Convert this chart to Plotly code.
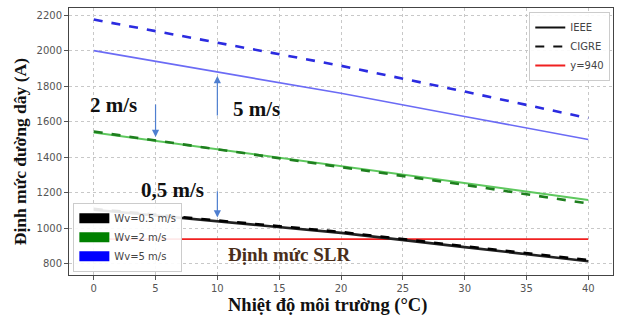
import plotly.graph_objects as go

temp = [0, 10, 20, 30, 40]
ieee_05 = [1105, 1040, 975, 895, 815]
cigre_05 = [1110, 1045, 980, 900, 822]
ieee_2 = [1540, 1445, 1350, 1255, 1160]
cigre_2 = [1545, 1445, 1345, 1245, 1140]
ieee_5 = [2000, 1880, 1760, 1630, 1500]
cigre_5 = [2175, 2045, 1915, 1770, 1620]
slr_x = [0, 40]
slr_y = [940, 940]

x_ticks = [0, 5, 10, 15, 20, 25, 30, 35, 40]
y_ticks = [800, 1000, 1200, 1400, 1600, 1800, 2000, 2200]

fig = go.Figure()

def line(x, y, color, dash, width):
    fig.add_trace(go.Scatter(x=x, y=y, mode="lines", line=dict(color=color, dash=dash, width=width),
                             showlegend=False))

line(temp, ieee_5, "#6b6bf5", "solid", 1.6)
line(temp, cigre_5, "#2b2be0", "dash", 2.6)
line(temp, ieee_2, "#5ec85e", "solid", 2)
line(temp, cigre_2, "#1e7f1e", "dash", 2.6)
line(slr_x, slr_y, "#f02020", "solid", 1.8)
line(temp, ieee_05, "#222222", "solid", 2.6)
line(temp, cigre_05, "#000000", "dash", 2.6)

# legend 1 (top right)
for nm, dash, col in [("IEEE", "solid", "#111111"), ("CIGRE", "dash", "#111111"), ("y=940", "solid", "#f02020")]:
    fig.add_trace(go.Scatter(x=[None], y=[None], mode="lines", line=dict(color=col, dash=dash, width=2),
                             name=nm, showlegend=True, legend="legend"))
# legend 2 (bottom left)
for nm, col in [("Wv=0.5 m/s", "#000000"), ("Wv=2 m/s", "#008000"), ("Wv=5 m/s", "#0000ff")]:
    fig.add_trace(go.Scatter(x=[None], y=[None], mode="lines", line=dict(color=col, width=10),
                             name=nm, showlegend=True, legend="legend2"))

serif = "Liberation Serif"
ann_font = dict(family=serif, size=21, color="#111111")
fig.add_annotation(x=1.6, y=1694, text="<b>2 m/s</b>", showarrow=False, font=ann_font)
fig.add_annotation(x=13.2, y=1672, text="<b>5 m/s</b>", showarrow=False, font=ann_font)
fig.add_annotation(x=6.4, y=1217, text="<b>0,5 m/s</b>", showarrow=False, font=ann_font)
fig.add_annotation(x=15.8, y=855, text="<b>Định mức SLR</b>", showarrow=False,
                   font=dict(family=serif, size=19, color="#4a2e1a"))

arrow_col = "#4f7fd0"
for (x0, y0, x1, y1) in [(5, 1706, 5, 1515), (10, 1627, 10, 1857), (10, 1217, 10, 1062)]:
    fig.add_annotation(x=x1, y=y1, ax=x0, ay=y0, axref="x", ayref="y", xref="x", yref="y",
                       text="", showarrow=True, arrowhead=2, arrowsize=1.2, arrowwidth=1.2,
                       arrowcolor=arrow_col)

# axis titles
fig.add_annotation(xref="paper", yref="paper", x=0.476, y=-0.115, xanchor="center", yanchor="middle",
                   text="<b>Nhiệt độ môi trường (°C)</b>",
                   showarrow=False, font=dict(family=serif, size=18.5, color="#111111"))
fig.add_annotation(xref="paper", yref="paper", x=-0.090, y=0.46, xanchor="center", yanchor="middle",
                   text="<b>Định mức đường dây (A)</b>",
                   showarrow=False, textangle=-90, font=dict(family=serif, size=17.5, color="#111111"))

fig.update_layout(
    width=620, height=320,
    margin=dict(l=69, r=7, t=8, b=45),
    plot_bgcolor="white", paper_bgcolor="white",
    font=dict(family="DejaVu Sans", size=10, color="#555555"),
    legend=dict(x=0.995, y=0.985, xanchor="right", yanchor="top", bgcolor="rgba(255,255,255,0.9)",
                bordercolor="#cccccc", borderwidth=1, font=dict(size=10, color="#444444"),
                itemwidth=30, tracegroupgap=0),
    legend2=dict(x=0.008, y=0.012, xanchor="left", yanchor="bottom", bgcolor="rgba(255,255,255,0.9)",
                 bordercolor="#cccccc", borderwidth=1, font=dict(size=10, color="#444444"),
                 itemwidth=30, tracegroupgap=0),
)
fig.update_xaxes(range=[-2, 42], tickvals=x_ticks, ticks="outside", ticklen=4, tickcolor="#555555",
                 showgrid=True, gridcolor="#c8c8c8", griddash="dot", gridwidth=1,
                 showline=True, linecolor="#444444", linewidth=1, mirror=True, zeroline=False)
fig.update_yaxes(range=[738, 2240], tickvals=y_ticks, ticks="outside", ticklen=4, tickcolor="#555555",
                 showgrid=True, gridcolor="#c8c8c8", griddash="dot", gridwidth=1,
                 showline=True, linecolor="#444444", linewidth=1, mirror=True, zeroline=False)

fig.write_html("out.html")
